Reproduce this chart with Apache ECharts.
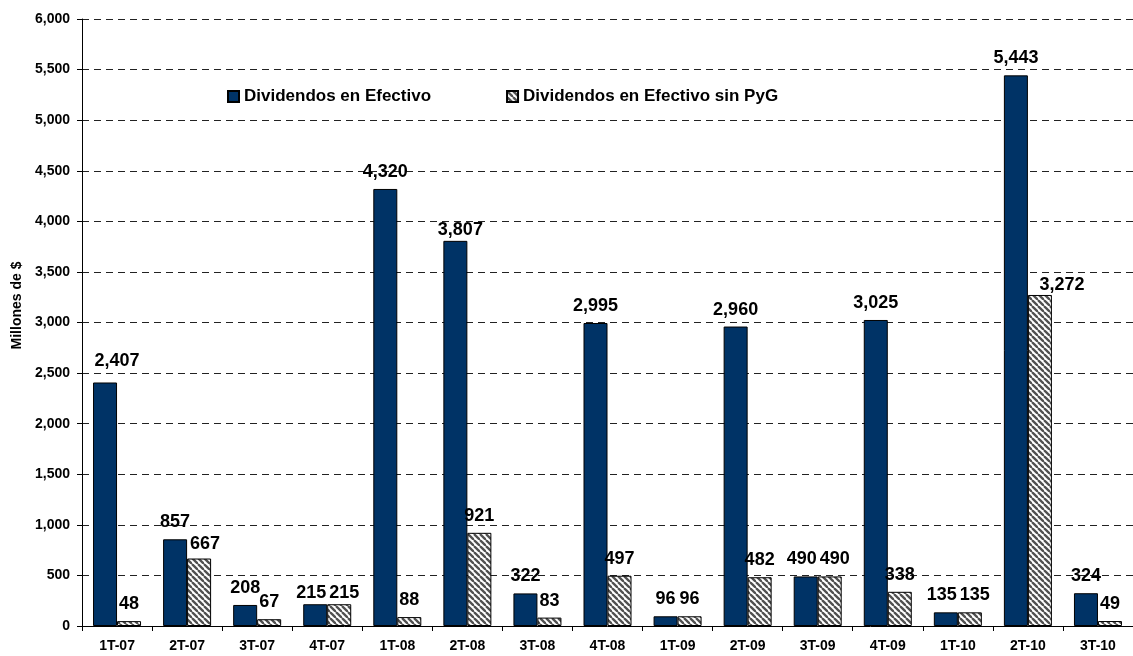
<!DOCTYPE html>
<html>
<head>
<meta charset="utf-8">
<script src="https://cdn.jsdelivr.net/npm/echarts@6/dist/echarts.min.js"></script>
<style>
html,body{margin:0;padding:0;background:#fff;}
#chart{width:1133px;height:656px;}
</style>
</head>
<body>
<div id="chart"></div>
<script>
const categories = ['1T-07','2T-07','3T-07','4T-07','1T-08','2T-08','3T-08','4T-08','1T-09','2T-09','3T-09','4T-09','1T-10','2T-10','3T-10'];
const efectivo = [2407, 857, 208, 215, 4320, 3807, 322, 2995, 96, 2960, 490, 3025, 135, 5443, 324];
const sinPyG = [48, 667, 67, 215, 88, 921, 83, 497, 96, 482, 490, 338, 135, 3272, 49];
const seriesNames = ['Dividendos en Efectivo', 'Dividendos en Efectivo sin PyG'];
const yTicks = { min: 0, max: 6000, interval: 500 };

// label nudges (dx, dy) by index, as placed in the original
const nudgeA = { 0: [12, -4], 3: [-4, 6], 5: [5, 6], 10: [-4, 0], 12: [-4, 0] };
const nudgeB = { 1: [6, 3], 3: [5, 6], 10: [5, 0], 12: [5, 0], 13: [22, 7] };

function makeHatch() {
  const s = 6;
  const c = document.createElement('canvas');
  c.width = s; c.height = s;
  const g = c.getContext('2d');
  g.fillStyle = '#ffffff';
  g.fillRect(0, 0, s, s);
  g.strokeStyle = '#505050';
  g.lineWidth = 2.3;
  for (let k = -s; k <= s; k += s) {
    g.beginPath();
    g.moveTo(k, 0);
    g.lineTo(k + s, s);
    g.stroke();
  }
  return { image: c, repeat: 'repeat' };
}

const fmt = v => v.toLocaleString('en-US');

function buildData(values, nudges) {
  return values.map((v, i) => {
    const n = nudges[i];
    if (!n) return v;
    return { value: v, label: { offset: n } };
  });
}

const FONT = 'Liberation Sans, Arial, sans-serif';
const chart = echarts.init(document.getElementById('chart'), null, { renderer: 'canvas' });

const labelStyle = {
  show: true,
  position: 'top',
  distance: 8,
  formatter: p => fmt(p.value),
  fontFamily: FONT,
  fontWeight: 'bold',
  fontSize: 18,
  color: '#000'
};

chart.setOption({
  animation: false,
  backgroundColor: '#fff',
  grid: { left: 82, top: 19, bottom: 30, right: -9.5, containLabel: false },
  legend: {
    left: 227,
    top: 88,
    padding: 0,
    itemWidth: 11,
    itemHeight: 11,
    itemGap: 75,
    icon: 'rect',
    textStyle: { fontFamily: FONT, fontWeight: 'bold', fontSize: 17, color: '#000' },
    data: seriesNames
  },
  xAxis: {
    type: 'category',
    data: categories,
    axisLine: { lineStyle: { color: '#000', width: 1 } },
    axisTick: { show: true, length: 5, lineStyle: { color: '#000' } },
    axisLabel: { margin: 13, fontFamily: FONT, fontWeight: 'bold', fontSize: 14, color: '#000', interval: 0 }
  },
  yAxis: {
    type: 'value',
    min: yTicks.min,
    max: yTicks.max,
    interval: yTicks.interval,
    name: 'Millones de $',
    nameLocation: 'middle',
    nameGap: 58,
    nameTextStyle: { fontFamily: FONT, fontWeight: 'bold', fontSize: 14, color: '#000', padding: [0, 0, 0, 34] },
    axisLine: { show: true, lineStyle: { color: '#000', width: 1 } },
    axisTick: { show: true, length: 5, lineStyle: { color: '#000' } },
    axisLabel: { margin: 12, fontFamily: FONT, fontWeight: 'bold', fontSize: 14, color: '#000', formatter: v => fmt(v) },
    splitLine: { show: true, lineStyle: { color: '#222', width: 1, type: [7, 5] } }
  },
  series: [
    {
      name: seriesNames[0],
      type: 'bar',
      barWidth: 24,
      barGap: '0%',
      data: buildData(efectivo, nudgeA),
      itemStyle: { color: '#003366', borderColor: '#000', borderWidth: 1 },
      label: labelStyle
    },
    {
      name: seriesNames[1],
      type: 'bar',
      barWidth: 24,
      barGap: '0%',
      data: buildData(sinPyG, nudgeB),
      itemStyle: { color: makeHatch(), borderColor: '#000', borderWidth: 1 },
      label: labelStyle
    }
  ]
});
</script>
</body>
</html>
